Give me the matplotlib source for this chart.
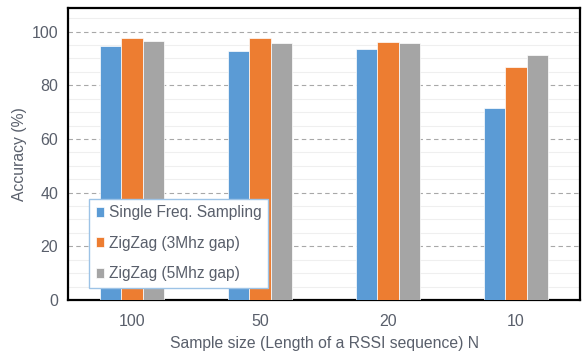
import matplotlib.pyplot as plt
import numpy as np

categories = ["100", "50", "20", "10"]
series_names = ["Single Freq. Sampling", "ZigZag (3Mhz gap)", "ZigZag (5Mhz gap)"]
single_freq = [94.7, 92.6, 93.5, 71.4]
zigzag_3mhz = [97.5, 97.5, 96.0, 87.0]
zigzag_5mhz = [96.4, 95.6, 95.6, 91.3]
colors = ["#5B9BD5", "#ED7D31", "#A5A5A5"]

plt.rcParams['font.family'] = ['Liberation Sans', 'DejaVu Sans']
txt = "#595f6b"

fig = plt.figure(figsize=(5.82, 3.55), dpi=100)
ax = fig.add_axes([68 / 582, 1 - 300 / 355, 512 / 582, 292 / 355])

x = np.arange(len(categories))
w = 0.165
for i, (vals, name) in enumerate(zip([single_freq, zigzag_3mhz, zigzag_5mhz], series_names)):
    ax.bar(x + (i - 1) * w, vals, w, color=colors[i], edgecolor="white",
           linewidth=0.5, label=name, zorder=3)

ax.set_xlim(-0.5, 3.5)
ax.set_ylim(0, 108.8)
ax.set_yticks(np.arange(0, 101, 20))
ax.set_yticks(np.arange(0, 106, 5), minor=True)
ax.grid(axis="y", which="major", linestyle=(0, (4, 3)), color="#a8a8a8", linewidth=0.8, zorder=0)
ax.grid(axis="y", which="minor", linestyle="-", color="#efefef", linewidth=0.8, zorder=0)
ax.set_xticks(x)
ax.set_xticklabels(categories)
ax.tick_params(axis="both", which="both", length=0, labelsize=11.5, colors=txt, pad=7)
ax.tick_params(axis="x", pad=10)

for s in ax.spines.values():
    s.set_linewidth(1.6)
    s.set_color("black")

ax.set_ylabel("Accuracy (%)", fontsize=11.3, color=txt, labelpad=3)
ax.set_xlabel("Sample size (Length of a RSSI sequence) N", fontsize=11.3, color=txt, labelpad=5)

leg = ax.legend(loc="lower left", bbox_to_anchor=(21 / 512, 12 / 292), borderaxespad=0,
                fontsize=11.2, frameon=True, fancybox=False, edgecolor="#9DC3E6", framealpha=1,
                handlelength=0.55, handleheight=0.6, handletextpad=0.3,
                labelspacing=1.0, borderpad=0.42)
leg.get_frame().set_linewidth(1.0)
for t in leg.get_texts():
    t.set_color(txt)

fig.savefig("out.png", dpi=100)
